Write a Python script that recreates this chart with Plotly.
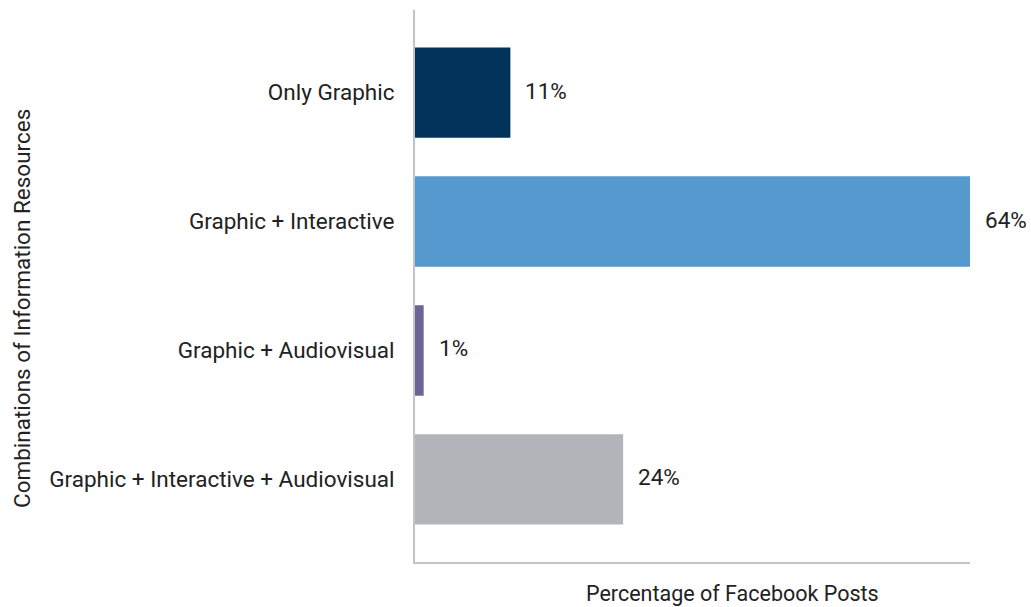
import plotly.graph_objects as go

categories = ["Only Graphic", "Graphic + Interactive", "Graphic + Audiovisual",
              "Graphic + Interactive + Audiovisual"]
percentages = [11, 64, 1, 24]
bar_colors = ["#02335A", "#5599CF", "#6C6499", "#B3B4B9"]

font_family = "Roboto, 'Open Sans', sans-serif"
text_color = "#222222"
font_size = 22.5

fig = go.Figure(go.Bar(
    x=percentages,
    y=categories,
    orientation="h",
    marker=dict(color=bar_colors, line=dict(width=0)),
    width=0.7,
    hoverinfo="x+y",
))

# value labels just right of each bar end
value_labels = [
    dict(x=v, y=c, xref="x", yref="y", text=f"{v}%", showarrow=False,
         xanchor="left", yanchor="middle", xshift=13, yshift=2,
         font=dict(size=font_size, color=text_color, family=font_family))
    for v, c in zip(percentages, categories)
]

pw, ph = 1031 - 415 - 61, 607 - 10 - 45

def px_to_paper(x, y):
    return (x - 415) / pw, (607 - 45 - y) / ph

tx, ty = px_to_paper(732, 593)
yx, yy = px_to_paper(22, 309)

fig.update_layout(
    width=1031, height=607,
    margin=dict(l=415, r=61, t=10, b=45),
    plot_bgcolor="white", paper_bgcolor="white",
    showlegend=False,
    font=dict(family=font_family, size=font_size, color=text_color),
    xaxis=dict(range=[0, 64], showticklabels=False, showgrid=False, zeroline=False,
               showline=True, linecolor="#C4C4C4", linewidth=2, ticks=""),
    yaxis=dict(categoryorder="array", categoryarray=categories,
               autorange=False, range=[3.64, -0.64],
               showgrid=False, zeroline=False, showline=True,
               linecolor="#C4C4C4", linewidth=2, ticks="",
               ticklabelstandoff=14,
               tickfont=dict(size=font_size, color=text_color, family=font_family)),
    annotations=value_labels + [
        dict(text="Percentage of Facebook Posts", x=tx, y=ty, xref="paper",
             yref="paper", showarrow=False, xanchor="center", yanchor="middle",
             font=dict(size=21.5, color=text_color)),
        dict(text="Combinations of Information Resources", x=yx, y=yy,
             xref="paper", yref="paper", textangle=-90, showarrow=False,
             xanchor="center", yanchor="middle",
             font=dict(size=font_size, color=text_color)),
    ],
)

fig.write_html("out.html")
